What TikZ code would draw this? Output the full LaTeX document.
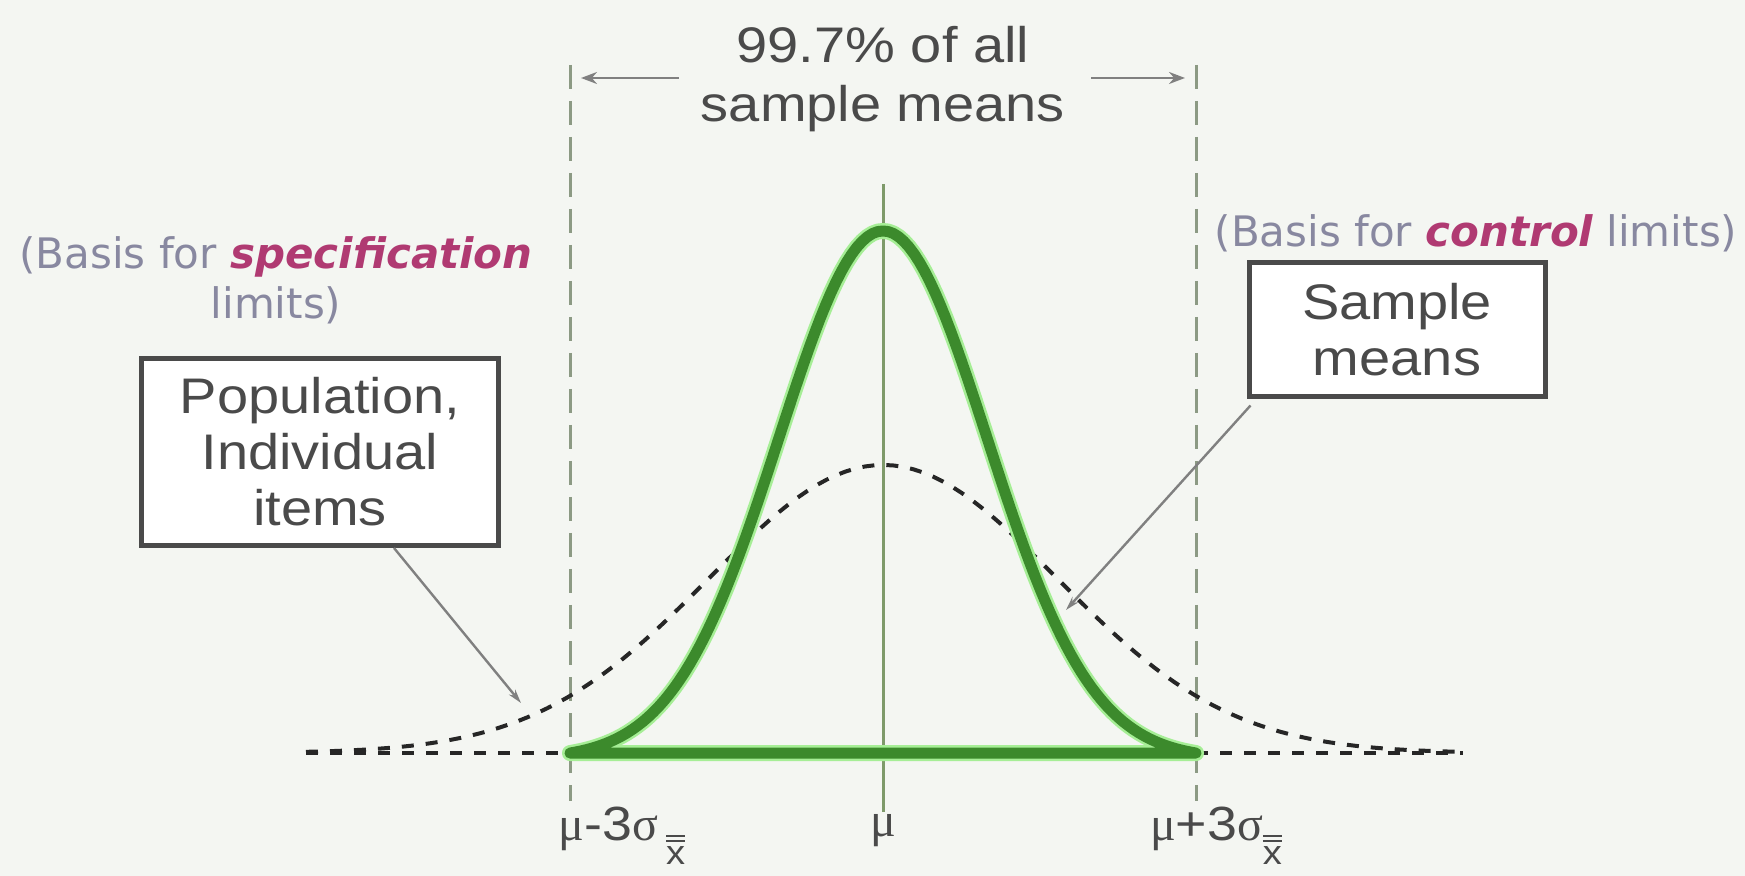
\documentclass[tikz,border=0pt]{standalone}
\usepackage{fontspec}
\setmainfont{Liberation Sans}[FakeStretch=1.12]
\newfontfamily\basisfont{DejaVu Sans}
\newfontfamily\greekfont{Liberation Serif}
\usetikzlibrary{arrows.meta}

\definecolor{bgcol}{HTML}{F4F6F2}
\definecolor{curvegreen}{HTML}{3C8A2C}
\definecolor{glowgreen}{HTML}{A6EE96}
\definecolor{limitgray}{HTML}{8C9A84}
\definecolor{meangreen}{HTML}{7E9A6A}
\definecolor{basisgray}{HTML}{8888A0}
\definecolor{basispink}{HTML}{B03A72}
\definecolor{textgray}{HTML}{4A4A4A}

% x with two bars, as a lowered subscript
\newcommand{\xbarbar}{\raisebox{-0.5em}{\fontsize{17}{17}\selectfont
  \rlap{\raisebox{0.66em}{\rule{0.56em}{0.07em}}}\rlap{\raisebox{0.82em}{\rule{0.56em}{0.07em}}}x}}

\tikzset{
  labelbox/.style={draw=textgray, line width=2.5pt, fill=white, align=center,
    text=textgray, font=\fontsize{25}{28}\selectfont, inner sep=0pt},
  basistext/.style={align=center, text=basisgray, font=\basisfont\fontsize{21}{25}\selectfont},
  limitline/.style={limitgray, line width=1.5pt, dash pattern=on 12pt off 6pt},
  popdash/.style={black!85, line width=2pt, dash pattern=on 6pt off 6pt},
  pointer/.style={gray, line width=1.2pt, -{Stealth[length=7pt,width=4pt]}},
  limlabel/.style={text=textgray, inner sep=0pt, font=\fontsize{24}{26}\selectfont},
}

\begin{document}
\begin{tikzpicture}[x=0.5pt, y=-0.5pt]
        \fill[bgcol] (0,0) rectangle (1745,876);
        \useasboundingbox (0,0) rectangle (1745,876);

        % limits and mean
        \coordinate (lowtop) at (570,65);  \coordinate (lowbot) at (570,801);
        \coordinate (uptop) at (1196,65);  \coordinate (upbot) at (1196,801);
        \coordinate (meantop) at (883,184); \coordinate (meanbot) at (883,812);
        \draw[limitline] (lowtop) -- (lowbot);
        \draw[limitline] (uptop) -- (upbot);
        \draw[meangreen, line width=1.5pt] (meantop) -- (meanbot);

        % population (dashed)
        \draw[popdash, domain=306:1463, samples=121]
            plot ({\x}, {753 - 288*exp(-((\x-883)/174)^2/2)});
        \coordinate (farleft) at (306,753);  \coordinate (lowbase) at (570,753);
        \coordinate (upbase) at (1196,753);  \coordinate (farright) at (1463,753);
        \draw[popdash] (farleft) -- (lowbase);
        \draw[popdash] (upbase) -- (farright);

        % sample means (green)
        \draw[glowgreen, line width=8pt, line join=round, domain=570:1196, samples=121]
            plot ({\x}, {753 - 522*(exp(-((\x-883)/104.3)^2/2)-0.0111)/0.9889}) -- cycle;
        \draw[curvegreen, line width=5.5pt, line join=round, domain=570:1196, samples=121]
            plot ({\x}, {753 - 522*(exp(-((\x-883)/104.3)^2/2)-0.0111)/0.9889}) -- cycle;

        % 99.7% span
        \node[text=textgray, align=center, font=\fontsize{25}{29.5}\selectfont] (pct) at (883,79)
            {99.7\% of all\\sample means};
        \coordinate (spanL) at (679,78); \coordinate (spanLend) at (581,78);
        \coordinate (spanR) at (1091,78); \coordinate (spanRend) at (1185,78);
        \draw[gray, line width=1.2pt, -{Stealth[length=8pt,width=6pt]}] (spanL) -- (spanLend);
        \draw[gray, line width=1.2pt, -{Stealth[length=8pt,width=6pt]}] (spanR) -- (spanRend);

        % notes
        \node[basistext] (specbasis) at (276,280)
            {(Basis for \textcolor{basispink}{\bfseries\itshape specification}\\limits)};
        \node[basistext] (ctrlbasis) at (1476,233)
            {(Basis for \textcolor{basispink}{\bfseries\itshape control} limits)};

        % boxes and pointers
        \node[labelbox, minimum width=178.5pt, minimum height=93.5pt] (popbox) at (320,452)
            {Population,\\Individual\\items};
        \node[labelbox, minimum width=148pt, minimum height=67pt] (samplebox) at (1397,330)
            {Sample\\means};
        \coordinate (poptip) at (521,703);
        \coordinate (sampletip) at (1066,610);
        \draw[pointer] ([xshift=37pt]popbox.south) -- (poptip);
        \draw[pointer] ([xshift=2pt,yshift=-3pt]samplebox.south west) -- (sampletip);

        % axis labels
        \node[limlabel] (lowlab) at (622,836) {{\greekfont μ}-3{\greekfont σ}\,\xbarbar};
        \node[limlabel] (meanlab) at (883,831) {\greekfont μ};
        \node[limlabel] (uplab) at (1216,836) {{\greekfont μ}+3{\greekfont σ}\xbarbar};
    \end{tikzpicture}
\end{document}
